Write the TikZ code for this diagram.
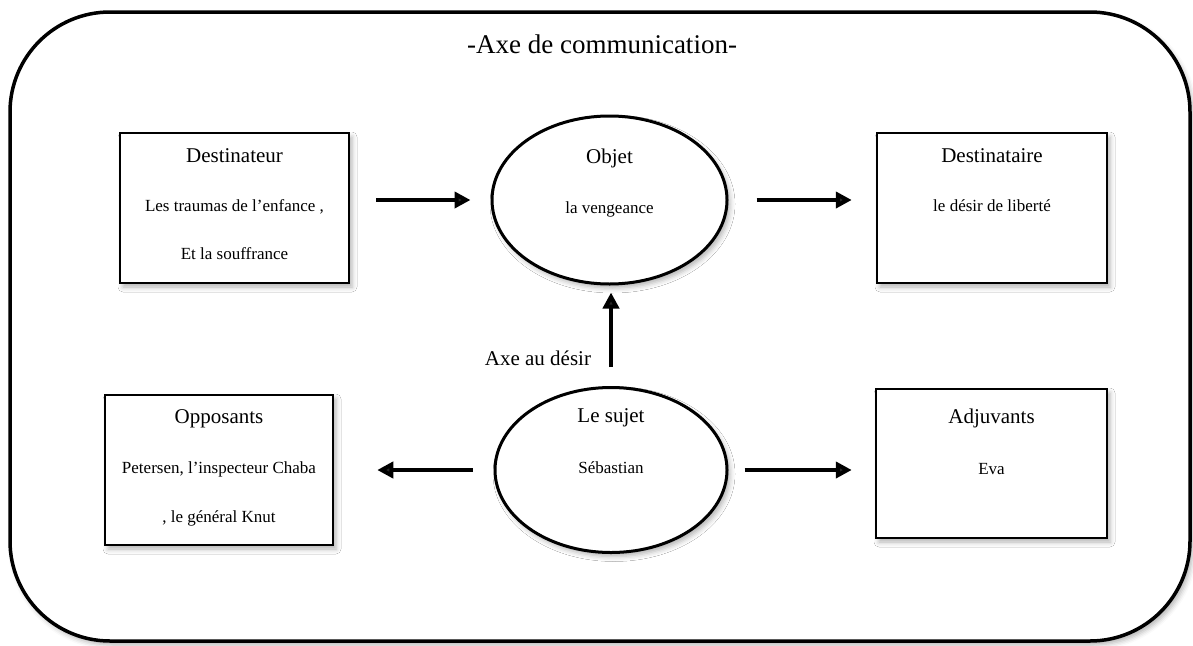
\documentclass[tikz,border=0pt]{standalone}
\usepackage{fontspec}
\setmainfont{Liberation Serif}
\usetikzlibrary{arrows.meta,shapes.geometric,positioning,shadows.blur}

\begin{document}
\begin{tikzpicture}[x=1pt,y=1pt,
 softshadow/.style={blur shadow={shadow xshift=3pt,shadow yshift=-4pt,shadow blur radius=5pt,shadow opacity=30}},
 frame/.style={draw,fill=white,line width=3.5pt,rounded corners=100pt,softshadow},
 actant/.style={draw,fill=white,line width=2.5pt,minimum width=229pt,minimum height=150pt,inner sep=0pt,softshadow},
 pole/.style={draw,fill=white,ellipse,line width=3pt,minimum width=235pt,minimum height=168pt,inner sep=0pt,softshadow},
 titre/.style={font=\fontsize{27}{32}\selectfont,inner sep=0pt},
 head/.style={font=\fontsize{21}{25}\selectfont,inner sep=0pt,text height=15pt,text depth=5pt},
 legend/.style={align=center,inner sep=0pt,font=\fontsize{17}{20}\selectfont},
 line/.style={-{Triangle[length=16pt,width=16pt]},line width=4pt}]
\useasboundingbox (0,0) rectangle (1193,-645);
\draw[frame] (10,-12) rectangle (1190,-641);
\node[titre] (titre) at (602,-44) {-Axe de communication-};
% les six actants
\node[actant] (destinateur) at (234.5,-208) {};
\node[pole] (objet) at (609.5,-200) {};
\node[actant,minimum width=230pt] (destinataire) at (992,-208) {};
\node[actant,minimum width=228pt] (opposants) at (219,-470) {};
\node[pole,minimum width=232pt,minimum height=165pt] (sujet) at (611,-470) {};
\node[actant,minimum width=231pt,minimum height=149pt] (adjuvants) at (991.5,-463.5) {};
% textes
\node[head,below=16pt of destinateur.north] (destinateurH) {Destinateur};
\node[legend,below=31pt of destinateurH] {Les traumas de l’enfance ,\\[28pt]Et la souffrance};
\node[head,below=34pt of objet.north] (objetH) {Objet};
\node[legend,below=33pt of objetH] {la vengeance};
\node[head,below=16pt of destinataire.north] (destinataireH) {Destinataire};
\node[legend,below=31pt of destinataireH] {le désir de liberté};
\node[head,below=15pt of opposants.north] (opposantsH) {Opposants};
\node[legend,below=32pt of opposantsH] {Petersen, l’inspecteur Chaba\\[29pt], le général Knut};
\node[head,below=21pt of sujet.north] (sujetH) {Le sujet};
\node[legend,below=34pt of sujetH] {Sébastian};
\node[head,below=21pt of adjuvants.north] (adjuvantsH) {Adjuvants};
\node[legend,below=34pt of adjuvantsH] {Eva};
% fleches
\draw[line,shorten <=26pt,shorten >=20pt] (objet.west -| destinateur.east) -- (objet.west);
\draw[line,shorten <=28pt,shorten >=24pt] (objet.east) -- (objet.east -| destinataire.west);
\draw[line,shorten <=19pt,shorten >=7pt] (sujet.north) -- node[pos=.25,left=18pt,head]{Axe au désir} (objet.south -| sujet.north);
\draw[line,shorten <=21pt,shorten >=43pt] (sujet.west) -- (sujet.west -| opposants.east);
\draw[line,shorten <=16pt,shorten >=23pt] (sujet.east) -- (sujet.east -| adjuvants.west);
\end{tikzpicture}
\end{document}
